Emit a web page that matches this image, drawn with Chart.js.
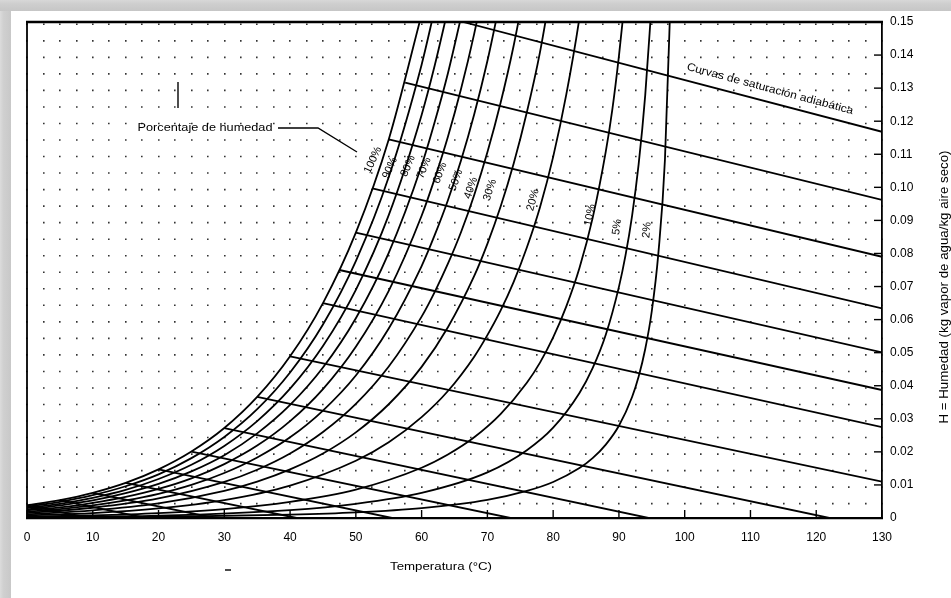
<!DOCTYPE html>
<html><head><meta charset="utf-8">
<style>html,body{margin:0;padding:0;background:#fff;overflow:hidden}#wrap{width:951px;height:598px;position:relative}canvas{display:block}</style>
<script src="https://cdn.jsdelivr.net/npm/chart.js@4.4.1/dist/chart.umd.min.js"></script>
</head><body><div id="wrap"><canvas id="c" width="951" height="598"></canvas></div>
<script>
// ---------- DATA ----------
const xTickValues = [0,10,20,30,40,50,60,70,80,90,100,110,120,130];
const yTickValues = [0,0.01,0.02,0.03,0.04,0.05,0.06,0.07,0.08,0.09,0.10,0.11,0.12,0.13,0.14,0.15];
const yTickLabels = ['0','0.01','0.02','0.03','0.04','0.05','0.06','0.07','0.08','0.09','0.10','0.11','0.12','0.13','0.14','0.15'];

const pctNames = ['100%','90%','80%','70%','60%','50%','40%','30%','20%','10%','5%','2%'];

const rh100T = [0,5,10,15,20,25,30,35,40,45,50,55,60];
const rh100H = [0.0038,0.0054,0.0076,0.0106,0.0147,0.0201,0.0272,0.0366,0.0489,0.0650,0.0863,0.1145,0.1523];
const rh90T = [0,5,10,15,20,25,30,35,40,45,50,55,60,62];
const rh90H = [0.0034,0.0049,0.0069,0.0096,0.0132,0.0181,0.0245,0.0329,0.0440,0.0585,0.0777,0.1031,0.1371,0.1540];
const rh80T = [0,5,10,15,20,25,30,35,40,45,50,55,60,62,64];
const rh80H = [0.0030,0.0043,0.0061,0.0085,0.0118,0.0161,0.0218,0.0293,0.0391,0.0520,0.0690,0.0916,0.1219,0.1369,0.1538];
const rh70T = [0,5,10,15,20,25,30,35,40,45,50,55,60,62,64,66];
const rh70H = [0.0026,0.0038,0.0053,0.0075,0.0103,0.0141,0.0190,0.0256,0.0342,0.0455,0.0604,0.0802,0.1066,0.1198,0.1345,0.1515];
const rh60T = [0,5,10,15,20,25,30,35,40,45,50,55,60,62,64,66,68,70];
const rh60H = [0.0023,0.0032,0.0046,0.0064,0.0088,0.0120,0.0163,0.0219,0.0293,0.0390,0.0518,0.0687,0.0914,0.1027,0.1153,0.1298,0.1465,0.1659];
const rh50T = [0,5,10,15,20,25,30,35,40,45,50,55,60,62,64,66,68,70,72];
const rh50H = [0.0019,0.0027,0.0038,0.0053,0.0073,0.0100,0.0136,0.0183,0.0244,0.0325,0.0431,0.0573,0.0762,0.0856,0.0961,0.1082,0.1221,0.1382,0.1569];
const rh40T = [0,10,20,30,35,40,45,50,55,60,62,64,66,68,70,72,74,76];
const rh40H = [0.0015,0.0031,0.0059,0.0109,0.0146,0.0195,0.0260,0.0345,0.0458,0.0609,0.0684,0.0769,0.0865,0.0977,0.1106,0.1255,0.1429,0.1636];
const rh30T = [0,10,20,30,35,40,45,50,55,60,64,68,70,72,74,76,78,80];
const rh30H = [0.0011,0.0023,0.0044,0.0082,0.0110,0.0147,0.0195,0.0259,0.0344,0.0457,0.0577,0.0732,0.0829,0.0941,0.1072,0.1227,0.1409,0.1638];
const rh20T = [0,10,20,30,40,50,55,60,64,68,70,72,74,76,78,80,82,84,86];
const rh20H = [0.0008,0.0015,0.0029,0.0054,0.0098,0.0173,0.0229,0.0305,0.0384,0.0488,0.0553,0.0627,0.0714,0.0818,0.0940,0.1092,0.1281,0.1513,0.1814];
const rh10T = [0,10,20,30,40,50,60,64,68,72,76,78,80,82,84,86,88,89,90,91];
const rh10H = [0.0004,0.0008,0.0015,0.0027,0.0049,0.0086,0.0152,0.0192,0.0244,0.0314,0.0409,0.0470,0.0546,0.0640,0.0756,0.0907,0.1108,0.1236,0.1397,0.1587];
const rh5T = [0,20,40,50,60,70,76,80,84,86,88,90,91,92,93,94,95];
const rh5H = [0.0002,0.0007,0.0024,0.0043,0.0076,0.0138,0.0205,0.0273,0.0378,0.0453,0.0554,0.0699,0.0794,0.0914,0.1070,0.1279,0.1565];
const rh2T = [0,20,40,50,60,70,76,80,84,86,88,90,92,93,94,95,96,97,98];
const rh2H = [0.0001,0.0003,0.0010,0.0017,0.0030,0.0055,0.0082,0.0109,0.0151,0.0181,0.0222,0.0279,0.0366,0.0428,0.0511,0.0626,0.0801,0.1085,0.1670];

// adiabatic saturation lines: start point (on saturation curve / top edge) and end point
const adiaStartT = [0,5,10,15,20,25,30,35,40,45,47.5,50,52.5,55,57.5,66.3];
const adiaStartH = [0.0038,0.0054,0.0076,0.0106,0.0147,0.0201,0.0272,0.0366,0.0489,0.0650,0.0750,0.0863,0.0997,0.1145,0.1317,0.1500];
const adiaEndT = [9.5,18,28.5,41,55.5,73.5,94.5,122,130,130,130,130,130,130,130,130];
const adiaEndH = [0,0,0,0,0,0,0,0,0.0110,0.0275,0.0387,0.0501,0.0634,0.0790,0.0962,0.1168];

// ---------- layout / annotation positions (pixels) ----------
const pctLabelPos = [[373,160,65],[390,168,66],[408,166,67],[424,168,68],[440,173,69],[456,180,70],[471,188,71],[490,190,72],[533,200,75],[590,215,78],[617,227,82],[647,230,85]];
const FONT = '"Liberation Sans", Arial, "DejaVu Sans", sans-serif';

const curveT = [rh100T,rh90T,rh80T,rh70T,rh60T,rh50T,rh40T,rh30T,rh20T,rh10T,rh5T,rh2T];
const curveH = [rh100H,rh90H,rh80H,rh70H,rh60H,rh50H,rh40H,rh30H,rh20H,rh10H,rh5H,rh2H];

const datasets = [];
curveT.forEach((T,k)=>{
  datasets.push({label:pctNames[k], data:T.map((t,i)=>({x:t,y:curveH[k][i]})),
    showLine:true, borderColor:'#000', borderWidth:1.8, pointRadius:0, cubicInterpolationMode:'monotone', fill:false});
});
adiaStartT.forEach((t,i)=>{
  datasets.push({label:'adiabatic', data:[{x:t,y:adiaStartH[i]},{x:adiaEndT[i],y:adiaEndH[i]}],
    showLine:true, borderColor:'#000', borderWidth:1.8, pointRadius:0, tension:0, fill:false});
});

function fitText(c, txt, cx, cy, w, ang, size){
  c.save();
  c.font = size + 'px ' + FONT;
  const m = c.measureText(txt).width;
  c.translate(cx, cy); c.rotate(ang*Math.PI/180);
  if (w) c.scale(w/m, 1);
  c.textAlign='center'; c.textBaseline='middle'; c.fillStyle='#000';
  c.fillText(txt, 0, 0);
  c.restore();
}

const deco = {
  id:'deco',
  beforeDraw(chart){
    const c = chart.ctx; c.save();
    c.fillStyle='#fff'; c.fillRect(0,0,chart.width,chart.height);
    let g = c.createLinearGradient(0,0,0,11);
    g.addColorStop(0,'#d8d8d8'); g.addColorStop(0.3,'#cfcfcf'); g.addColorStop(1,'#c6c6c6');
    c.fillStyle=g; c.fillRect(0,0,chart.width,11);
    g = c.createLinearGradient(0,0,11,0);
    g.addColorStop(0,'#dcdcdc'); g.addColorStop(0.3,'#d0d0d0'); g.addColorStop(1,'#c8c8c8');
    c.fillStyle=g; c.fillRect(0,11,11,chart.height-11);
    c.restore();
  },
  afterDraw(chart){
    const c = chart.ctx, a = chart.chartArea, xs = chart.scales.x, ys = chart.scales.y;
    c.save(); c.strokeStyle='#000';
    c.lineWidth=2.4; c.beginPath(); c.moveTo(a.left-1,a.top); c.lineTo(a.right+1,a.top); c.stroke();
    c.lineWidth=1.8; c.beginPath(); c.moveTo(a.left,a.top); c.lineTo(a.left,a.bottom); c.stroke();
    c.lineWidth=1.4;
    xs.ticks.forEach(t=>{const p=xs.getPixelForValue(t.value); c.beginPath(); c.moveTo(p,a.bottom); c.lineTo(p,a.bottom-8); c.stroke();});
    ys.ticks.forEach(t=>{const p=ys.getPixelForValue(t.value); c.beginPath(); c.moveTo(a.right,p); c.lineTo(a.right-8,p); c.stroke();});
    c.lineWidth=1.4; c.beginPath(); c.moveTo(278,128); c.lineTo(318,128); c.lineTo(357,152); c.stroke();
    c.beginPath(); c.moveTo(178,82); c.lineTo(178,108); c.stroke();
    c.beginPath(); c.moveTo(225,570); c.lineTo(231,570); c.stroke();
    c.restore();
    fitText(c,'Porcentaje de humedad',205,128,135,0,11);
    fitText(c,'Curvas de saturación adiabática',770,89,172,15,11);
    fitText(c,'Temperatura (°C)',441,567,102,0,11);
    fitText(c,'H = Humedad (kg vapor de agua/kg aire seco)',945,287,273,-90,12);
    pctLabelPos.forEach((p,i)=>fitText(c,pctNames[i],p[0],p[1],0,-p[2],11));
  }
};

new Chart(document.getElementById('c'), {
  type:'scatter',
  data:{datasets},
  options:{
    responsive:false, animation:false, events:[],
    layout:{padding:{left:27,top:22,right:0,bottom:0}},
    plugins:{legend:{display:false}, tooltip:{enabled:false}, title:{display:false}},
    scales:{
      x:{type:'linear', position:'bottom', min:0, max:130,
         afterBuildTicks:s=>{s.ticks = xTickValues.map(v=>({value:v}));},
         ticks:{autoSkip:false, maxRotation:0, padding:12, color:'#000', font:{family:FONT,size:12}},
         grid:{display:false, drawTicks:false},
         border:{display:true, color:'#000', width:2.2},
         afterFit:s=>{s.height=80;}},
      xg:{type:'linear', position:'bottom', min:0, max:130,
         ticks:{display:false, stepSize:2.5},
         grid:{display:true, drawTicks:false, color:'rgba(0,0,0,0.8)', lineWidth:1.6},
         border:{display:false, dash:[1.6,14.93], dashOffset:-1.5},
         afterFit:s=>{s.height=0;}},
      y:{type:'linear', position:'right', min:0, max:0.15,
         afterBuildTicks:s=>{s.ticks = yTickValues.map(v=>({value:v}));},
         ticks:{autoSkip:false, padding:8, color:'#000', font:{family:FONT,size:12},
           callback:(v)=>{const i=yTickValues.findIndex(t=>Math.abs(t-v)<1e-6); return i>=0?yTickLabels[i]:'';}},
         grid:{display:false, drawTicks:false},
         border:{display:true, color:'#000', width:1.8},
         afterFit:s=>{s.width=69;}}
    }
  },
  plugins:[deco]
});
</script>
</body></html>
